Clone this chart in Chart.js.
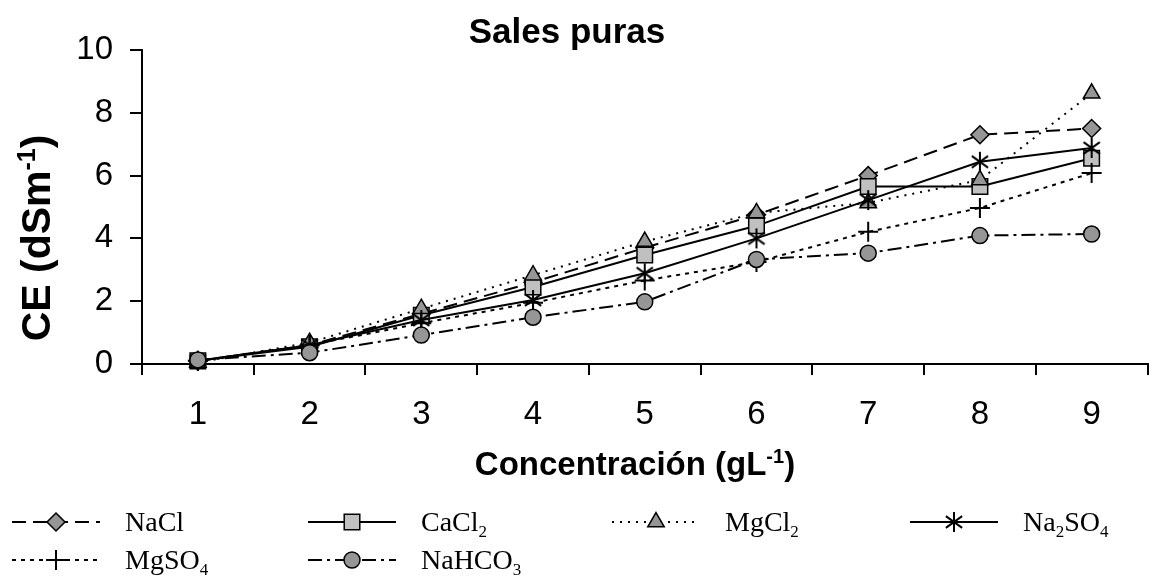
<!DOCTYPE html>
<html>
<head>
<meta charset="utf-8">
<script src="https://cdn.jsdelivr.net/npm/chart.js@4/dist/chart.umd.min.js"></script>
<style>
  html, body { margin: 0; padding: 0; background: #fff; overflow: hidden; width: 1153px; height: 585px; }
  #wrap { position: relative; width: 1153px; height: 585px; overflow: hidden; }
  canvas { display: block; }
</style>
</head>
<body>
<div id="wrap"><canvas id="c" width="1160" height="585"></canvas></div>
<script>
// Concentration steps (g/L) on the x axis
const categories = ['1', '2', '3', '4', '5', '6', '7', '8', '9'];
// y axis ticks (dS/m)
const yTicks = [0, 2, 4, 6, 8, 10];
// Salt names, digits are shown as subscripts
const seriesNames = ['NaCl', 'CaCl2', 'MgCl2', 'Na2SO4', 'MgSO4', 'NaHCO3'];

// Electrical conductivity of each pure salt solution
const nacl   = [0.10, 0.60, 1.60, 2.60, 3.70, 4.75, 6.00, 7.30, 7.50];
const cacl2  = [0.10, 0.55, 1.55, 2.45, 3.47, 4.40, 5.65, 5.65, 6.55];
const mgcl2  = [0.05, 0.68, 1.76, 2.83, 3.90, 4.81, 5.13, 5.86, 8.62];
const na2so4 = [0.10, 0.60, 1.40, 2.04, 2.89, 4.00, 5.22, 6.44, 6.88];
const mgso4  = [0.10, 0.60, 1.30, 1.95, 2.66, 3.25, 4.21, 4.97, 6.08];
const nahco3 = [0.13, 0.36, 0.92, 1.49, 1.98, 3.33, 3.53, 4.09, 4.14];

const SANS = "'Liberation Sans', Arial, sans-serif";
const SERIF = "'Liberation Serif', 'Times New Roman', serif";

// six-spoke asterisk marker
function makeAsterisk(size, lw) {
  const c = document.createElement('canvas');
  c.width = size; c.height = size;
  const g = c.getContext('2d');
  const m = size / 2, r = size / 2 - 1;
  g.strokeStyle = '#000';
  g.lineWidth = lw;
  g.lineCap = 'butt';
  g.beginPath();
  g.moveTo(m, m - r); g.lineTo(m, m + r);
  const a = Math.PI / 6 + 0.1;
  g.moveTo(m - r * Math.cos(a), m - r * Math.sin(a)); g.lineTo(m + r * Math.cos(a), m + r * Math.sin(a));
  g.moveTo(m - r * Math.cos(a), m + r * Math.sin(a)); g.lineTo(m + r * Math.cos(a), m - r * Math.sin(a));
  g.stroke();
  return c;
}
const asterisk = makeAsterisk(22, 2);

const styles = [
  { data: nacl,   dash: [14, 7],        marker: 'rectRot',  radius: 9,  fill: '#969696' },
  { data: cacl2,  dash: [],             marker: 'rect',     radius: 11, fill: '#c0c0c0' },
  { data: mgcl2,  dash: [2, 6],         marker: 'triangle', radius: 9.5, fill: '#969696' },
  { data: na2so4, dash: [],             marker: asterisk,   radius: 10, fill: '#000' },
  { data: mgso4,  dash: [4, 5],         marker: 'cross',    radius: 10, fill: '#000' },
  { data: nahco3, dash: [14, 5, 3, 5],  marker: 'circle',   radius: 8,  fill: '#969696' }
];

const datasets = seriesNames.map((name, i) => ({
  label: name,
  data: styles[i].data,
  borderColor: '#000',
  borderWidth: 2,
  borderDash: styles[i].dash,
  pointStyle: styles[i].marker,
  pointRadius: styles[i].radius,
  pointHoverRadius: styles[i].radius,
  pointBackgroundColor: styles[i].fill,
  pointBorderColor: '#000',
  pointBorderWidth: styles[i].marker === 'cross' ? 2 : 1.5,
  tension: 0,
  fill: false,
  clip: false,
  order: seriesNames.length - i
}));

// text with super/subscript runs
function drawRuns(ctx, runs, x, y, size, weight, family, align) {
  const subSize = Math.round(size * 0.62);
  const widths = runs.map(r => {
    ctx.font = `${weight} ${r.sup || r.sub ? subSize : size}px ${family}`;
    return ctx.measureText(r.t).width;
  });
  const total = widths.reduce((a, b) => a + b, 0);
  let cx = align === 'center' ? x - total / 2 : x;
  runs.forEach((r, k) => {
    ctx.font = `${weight} ${r.sup || r.sub ? subSize : size}px ${family}`;
    let dy = 0;
    if (r.sup) dy = -size * 0.36;
    if (r.sub) dy = size * 0.2;
    ctx.fillText(r.t, cx, y + dy);
    cx += widths[k];
  });
}

function formulaRuns(name) {
  return name.match(/[A-Za-z]+|\d+/g).map(p => /\d/.test(p) ? { t: p, sub: true } : { t: p });
}

function legendMarker(ctx, st, x, y) {
  ctx.save();
  ctx.setLineDash([]);
  ctx.strokeStyle = '#000';
  ctx.fillStyle = st.fill;
  ctx.lineWidth = 1.5;
  const r = st.radius;
  if (st.marker === asterisk) {
    ctx.drawImage(asterisk, x - asterisk.width / 2, y - asterisk.height / 2);
  } else if (st.marker === 'cross') {
    ctx.lineWidth = 2;
    ctx.beginPath();
    ctx.moveTo(x - r, y); ctx.lineTo(x + r, y);
    ctx.moveTo(x, y - r); ctx.lineTo(x, y + r);
    ctx.stroke();
  } else {
    ctx.beginPath();
    if (st.marker === 'rectRot') {
      ctx.moveTo(x, y - r); ctx.lineTo(x + r, y); ctx.lineTo(x, y + r); ctx.lineTo(x - r, y); ctx.closePath();
    } else if (st.marker === 'rect') {
      const h = r * Math.SQRT1_2;
      ctx.rect(x - h, y - h, 2 * h, 2 * h);
    } else if (st.marker === 'triangle') {
      ctx.moveTo(x, y - r);
      ctx.lineTo(x + r * Math.sin(Math.PI / 3), y + r * 0.5);
      ctx.lineTo(x - r * Math.sin(Math.PI / 3), y + r * 0.5);
      ctx.closePath();
    } else {
      ctx.arc(x, y, r, 0, Math.PI * 2);
    }
    ctx.fill();
    ctx.stroke();
  }
  ctx.restore();
}

const legendSlots = [
  { x: 12,  y: 522 }, { x: 308, y: 522 }, { x: 612, y: 522 }, { x: 910, y: 522 },
  { x: 12,  y: 560 }, { x: 308, y: 560 }
];

const textPlugin = {
  id: 'texts',
  afterDraw(chart) {
    const ctx = chart.ctx;
    ctx.save();
    ctx.fillStyle = '#000';
    ctx.textBaseline = 'alphabetic';
    ctx.textAlign = 'left';

    // chart title
    drawRuns(ctx, [{ t: 'Sales puras' }], 567, 43, 35, 'bold', SANS, 'center');

    // x axis title
    drawRuns(ctx, [{ t: 'Concentración (gL' }, { t: '-1', sup: true }, { t: ')' }], 635, 475, 33, 'bold', SANS, 'center');

    // y axis title
    ctx.save();
    ctx.translate(50, 238);
    ctx.rotate(-Math.PI / 2);
    drawRuns(ctx, [{ t: 'CE (dSm' }, { t: '-1', sup: true }, { t: ')' }], 0, 0, 41, 'bold', SANS, 'center');
    ctx.restore();

    // legend
    seriesNames.forEach((name, i) => {
      const s = legendSlots[i];
      const st = styles[i];
      ctx.save();
      ctx.strokeStyle = '#000';
      ctx.lineWidth = 2;
      ctx.setLineDash(st.dash);
      ctx.beginPath();
      ctx.moveTo(s.x, s.y);
      ctx.lineTo(s.x + 88, s.y);
      ctx.stroke();
      ctx.restore();
      legendMarker(ctx, st, s.x + 44, s.y);
      ctx.fillStyle = '#000';
      drawRuns(ctx, formulaRuns(name), s.x + 113, s.y + 9, 28, 'normal', SERIF, 'left');
    });
    ctx.restore();
  }
};

new Chart(document.getElementById('c'), {
  type: 'line',
  data: { labels: categories, datasets },
  options: {
    responsive: false,
    animation: false,
    devicePixelRatio: 1,
    layout: { padding: { top: 50, left: 0, right: 0, bottom: 0 } },
    plugins: { legend: { display: false }, title: { display: false }, tooltip: { enabled: false } },
    scales: {
      x: {
        type: 'category',
        offset: true,
        grid: { display: true, offset: true, drawOnChartArea: false, drawTicks: true, tickLength: 11, color: '#000', lineWidth: 2 },
        border: { display: true, color: '#000', width: 2 },
        ticks: { color: '#000', font: { family: SANS, size: 33 }, padding: 20, maxRotation: 0, autoSkip: false },
        afterFit(scale) { scale.height = 221; scale.paddingLeft = 0; scale.paddingRight = 0; }
      },
      y: {
        min: 0,
        max: 10,
        afterBuildTicks(scale) { scale.ticks = yTicks.map(v => ({ value: v })); },
        grid: { display: true, drawOnChartArea: false, drawTicks: true, tickLength: 12, color: '#000', lineWidth: 2 },
        border: { display: true, color: '#000', width: 2 },
        ticks: { color: '#000', font: { family: SANS, size: 33 }, padding: 17 },
        afterFit(scale) { scale.width = 142; }
      }
    }
  },
  plugins: [textPlugin]
});
</script>
</body>
</html>
